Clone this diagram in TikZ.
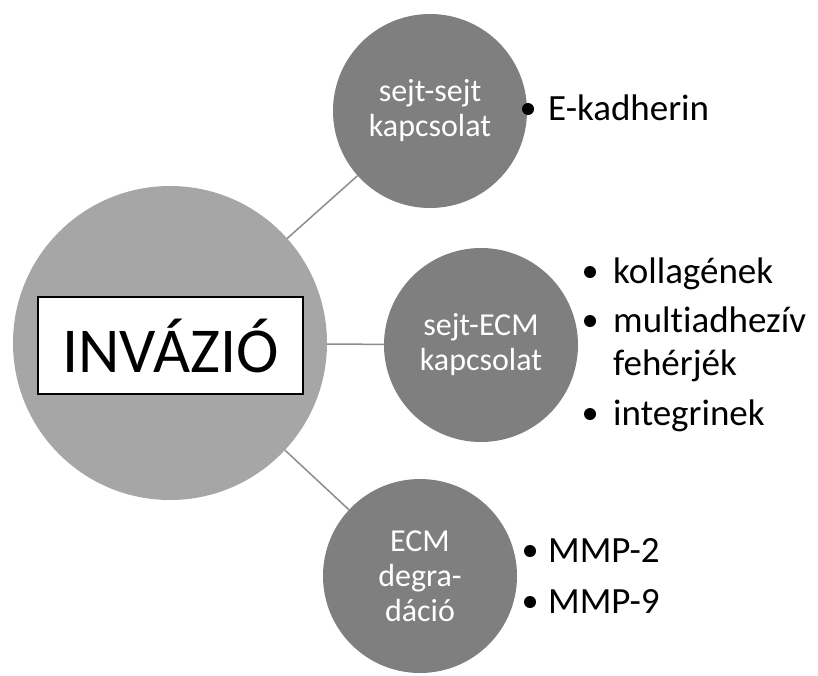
\documentclass[tikz,border=0pt]{standalone}
\usepackage{fontspec}
\setmainfont{Carlito}[Ligatures=NoCommon]
\usepackage{tikz}
\usetikzlibrary{positioning}
\definecolor{grisClaro}{RGB}{166,166,166}
\definecolor{grisMedio}{RGB}{127,127,127}
\definecolor{grisLinea}{RGB}{140,140,140}
\tikzstyle{edge}    =[draw=grisLinea, line width=1.5pt]
\tikzstyle{hub}     =[circle, fill=grisClaro, minimum size=314pt,
                      inner sep=0pt, outer sep=0pt]
\tikzstyle{topic}   =[circle, fill=grisMedio, minimum size=194pt,
                      inner sep=0pt, outer sep=0pt, text=white,
                      align=center, font=\fontsize{32}{35}\selectfont]
\tikzstyle{titlebox}=[rectangle, draw=black, fill=white, line width=1.2pt,
                      minimum width=265pt, minimum height=97pt,
                      font=\fontsize{64}{70}\selectfont]
\tikzstyle{dot}     =[circle, fill=black, minimum size=12pt,
                      inner sep=0pt, outer sep=0pt]
\tikzstyle{item}    =[anchor=base west, inner sep=0pt,
                      font=\fontsize{37}{42}\selectfont]

\begin{document}
\begin{tikzpicture}[x=1pt, y=-1pt]
    \useasboundingbox (0,0) rectangle (818,675);

    % central circle and the three topics
    \draw (170,343) node (0) [hub] {};
    \draw (430,111) node (1) [topic] {sejt-sejt\\kapcsolat};
    \draw (481,345) node (2) [topic] {sejt-ECM\\kapcsolat};
    \draw (420,576) node (3) [topic] {ECM\\degra-\\dáció};

    \foreach \j in {1,2,3}
        \draw [edge] (0) -- (\j);

    \draw (170.5,345.5) node (t) [titlebox] {INVÁZIÓ};

    % bullet lists
    \foreach \x/\y/\n in {528/109/1, 590/272/2, 590/321/3,
                          590/414/4, 530/551/5, 530/602/6}
        \draw (\x,\y) node (d\n) [dot] {};

    \foreach \x/\y/\n/\s in {548/120/1/E-kadherin, 613/283/2/kollagének,
                             613/332/3/multiadhezív, 613/375/4/fehérjék,
                             613/425/5/integrinek, 548/562/6/MMP-2,
                             548/613/7/MMP-9}
        \draw (\x,\y) node (i\n) [item] {\s};

\end{tikzpicture}
\end{document}
